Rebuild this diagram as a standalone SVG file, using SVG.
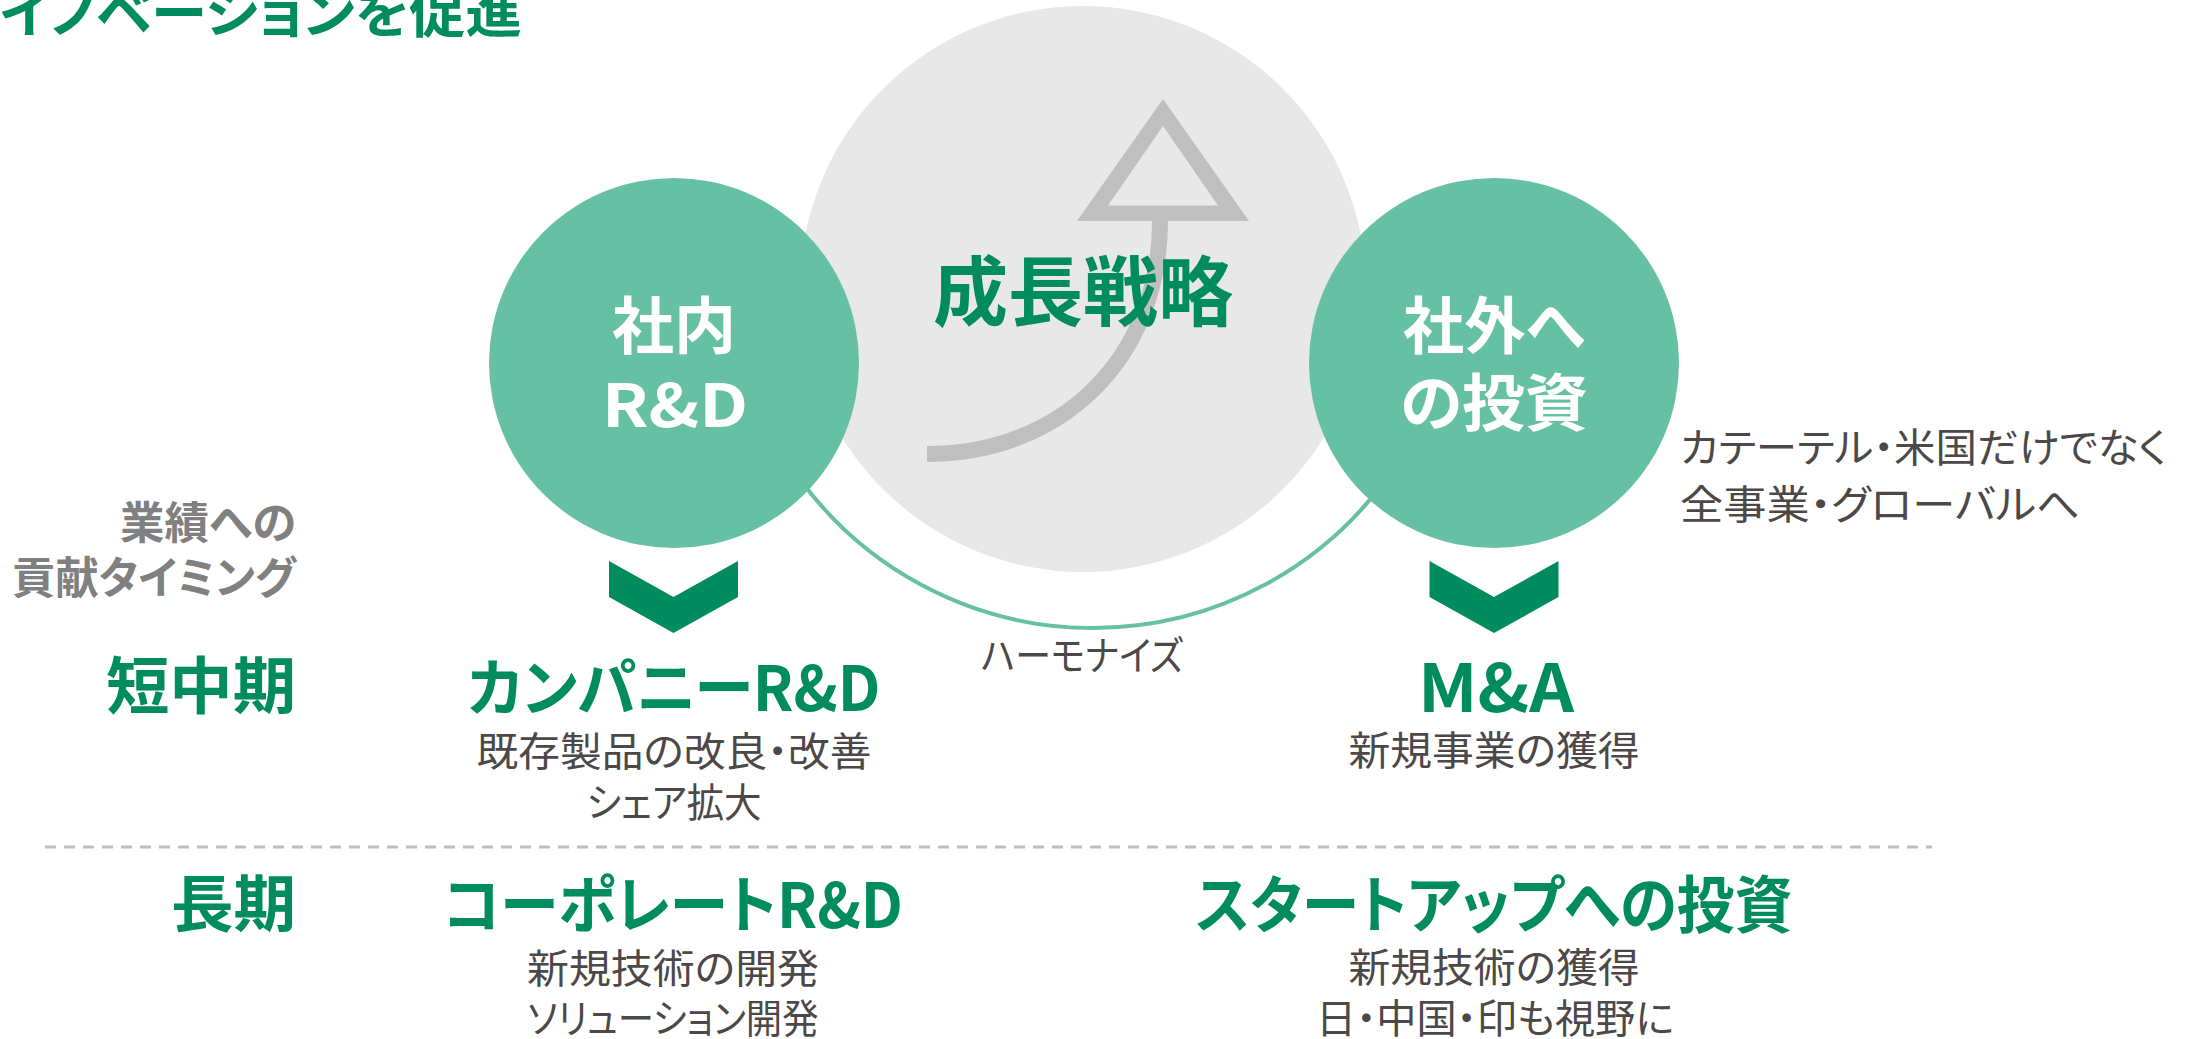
<svg xmlns="http://www.w3.org/2000/svg" width="2194" height="1039" viewBox="0 0 2194 1039">
<style>
text{font-family:"Noto Sans CJK JP","Noto Sans",sans-serif;font-feature-settings:"palt" 1}
.b{font-weight:700}
.g{fill:#008C5F}
.w{fill:#FFFFFF}
.gr{fill:#808080}
.t{fill:#4D4848;font-size:40px}
.c{text-anchor:middle}
.e{text-anchor:end}
.chev{fill:#008C5F}
.node{fill:#66C0A4}
</style>
<rect width="2194" height="1039" fill="#FFFFFF"/>
<g id="title">
<text class="b g" x="0" y="33" font-size="54" textLength="522" lengthAdjust="spacingAndGlyphs">イノベーションを促進</text>
</g>
<g id="growth">
<circle cx="1083" cy="289" r="283" fill="#E8E8E8"/>
<path d="M1160,221 C1160,360 1060,454 927,454" fill="none" stroke="#BFBFBF" stroke-width="16"/>
<path d="M1163,99 L1077,221 L1249,221 Z M1163,126 L1108,205.5 L1218,205.5 Z" fill="#BFBFBF" fill-rule="evenodd"/>
</g>
<g id="connectors">
<path d="M800.5,480 A363,363 0 0 0 1385.5,480" fill="none" stroke="#66C0A4" stroke-width="4"/>
<line x1="45" y1="847" x2="1932" y2="847" stroke="#BFBFBF" stroke-width="3" stroke-dasharray="11 8"/>
</g>
<g id="growth-label">
<text class="b g c" x="1083" y="320" font-size="76" textLength="300" lengthAdjust="spacingAndGlyphs">成長戦略</text>
</g>
<g id="node-internal">
<circle class="node" cx="674" cy="363" r="185"/>
<text class="b w c" x="674" y="349" font-size="62" textLength="124" lengthAdjust="spacingAndGlyphs">社内</text>
<text class="b w c" x="675" y="427" font-size="60" textLength="146" lengthAdjust="spacingAndGlyphs">R&amp;D</text>
</g>
<g id="node-external">
<circle class="node" cx="1494" cy="363" r="185"/>
<text class="b w c" x="1494" y="349" font-size="62" textLength="182" lengthAdjust="spacingAndGlyphs">社外へ</text>
<text class="b w c" x="1494" y="426" font-size="62" textLength="188" lengthAdjust="spacingAndGlyphs">の投資</text>
</g>
<g id="chevron-left">
<polygon class="chev" points="609,561 673.5,597 738,561 738,597 673.5,633 609,597"/>
</g>
<g id="chevron-right">
<polygon class="chev" points="1429.5,561 1494,597 1558.5,561 1558.5,597 1494,633 1429.5,597"/>
</g>
<g id="harmonize-label">
<text class="t c" x="1082" y="670" textLength="202" lengthAdjust="spacingAndGlyphs">ハーモナイズ</text>
</g>
<g id="external-note">
<text class="t" x="1680" y="462" textLength="487" lengthAdjust="spacingAndGlyphs">カテーテル・米国だけでなく</text>
<text class="t" x="1680" y="519" textLength="400" lengthAdjust="spacingAndGlyphs">全事業・グローバルへ</text>
</g>
<g id="timing-label">
<text class="b gr e" x="296" y="539" font-size="44" textLength="176" lengthAdjust="spacingAndGlyphs">業績への</text>
<text class="b gr e" x="296" y="594" font-size="44" textLength="284" lengthAdjust="spacingAndGlyphs">貢献タイミング</text>
</g>
<g id="row-short">
<text class="b g e" x="296" y="709" font-size="62" textLength="190" lengthAdjust="spacingAndGlyphs">短中期</text>
</g>
<g id="row-long">
<text class="b g e" x="296" y="927" font-size="62" textLength="125" lengthAdjust="spacingAndGlyphs">長期</text>
</g>
<g id="company-rd">
<text class="b g c" x="674" y="711" font-size="62" textLength="413" lengthAdjust="spacingAndGlyphs">カンパニーR&amp;D</text>
<text class="t c" x="674" y="766" textLength="395" lengthAdjust="spacingAndGlyphs">既存製品の改良・改善</text>
<text class="t c" x="674" y="817" textLength="175" lengthAdjust="spacingAndGlyphs">シェア拡大</text>
</g>
<g id="corporate-rd">
<text class="b g c" x="673" y="928" font-size="62" textLength="460" lengthAdjust="spacingAndGlyphs">コーポレートR&amp;D</text>
<text class="t c" x="673" y="983" textLength="292" lengthAdjust="spacingAndGlyphs">新規技術の開発</text>
<text class="t c" x="673" y="1033" textLength="291" lengthAdjust="spacingAndGlyphs">ソリューション開発</text>
</g>
<g id="ma">
<text class="b g c" x="1496" y="712" font-size="66" textLength="156" lengthAdjust="spacingAndGlyphs">M&amp;A</text>
<text class="t c" x="1494" y="765" textLength="291" lengthAdjust="spacingAndGlyphs">新規事業の獲得</text>
</g>
<g id="startup">
<text class="b g c" x="1494" y="928" font-size="62" textLength="597" lengthAdjust="spacingAndGlyphs">スタートアップへの投資</text>
<text class="t c" x="1494" y="982" textLength="291" lengthAdjust="spacingAndGlyphs">新規技術の獲得</text>
<text class="t c" x="1495" y="1033" textLength="358" lengthAdjust="spacingAndGlyphs">日・中国・印も視野に</text>
</g>
</svg>
